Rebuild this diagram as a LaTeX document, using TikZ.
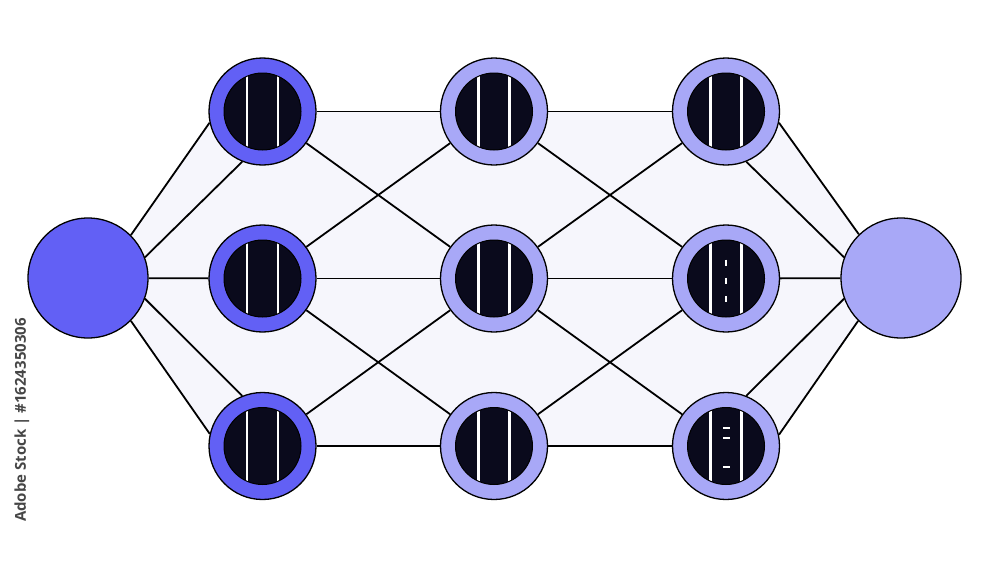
\documentclass[tikz,border=0pt]{standalone}
\usepackage{fontspec}
\newfontfamily\wmfont{Open Sans}
\usetikzlibrary{backgrounds}
\definecolor{ringdark}{RGB}{98,96,245}
\definecolor{ringlight}{RGB}{168,168,247}
\definecolor{core}{RGB}{10,10,28}
\definecolor{zone}{RGB}{246,246,252}
\definecolor{wmgray}{RGB}{70,70,70}
\tikzset{
  bigdot/.style={circle, draw=black, line width=1.3pt, minimum size=120pt, inner sep=0pt},
  laneA/.style={circle, draw=black, line width=1.3pt, minimum size=107pt, inner sep=0pt, fill=ringdark},
  laneB/.style={circle, draw=black, line width=1.3pt, minimum size=107pt, inner sep=0pt, fill=ringlight},
  link/.style={draw=black, line width=1.8pt},
  lanemark/.style={draw=white, line width=2.6pt},
  dashmark/.style={draw=white, line width=2.2pt}
}
\begin{document}
\begin{tikzpicture}[x=1pt,y=-1pt]
\useasboundingbox (0,0) rectangle (1000,563);
% nodes
\node[bigdot, fill=ringdark] (L) at (88,278) {};
\node[bigdot, fill=ringlight] (R) at (901,278) {};
\node[laneA] (a1) at (262.5,111.5) {};
\node[laneA] (a2) at (262.5,278.5) {};
\node[laneA] (a3) at (262.5,446) {};
\node[laneB] (b1) at (494,111.5) {};
\node[laneB] (b2) at (494,278.5) {};
\node[laneB] (b3) at (494,446) {};
\node[laneB] (c1) at (726,111.5) {};
\node[laneB] (c2) at (726,278.5) {};
\node[laneB] (c3) at (726,446) {};
\begin{scope}[on background layer]
  \fill[white] (0,0) rectangle (1000,563);
  \fill[zone] (L.45.7) -- (a1.192.4) -- (a1.center) -- (c1.center) -- (c1.-12.4) -- (R.134.3)
    -- (R.center) -- (R.225.7) -- (c3.12.4) -- (c3.center) -- (a3.center) -- (a3.167.6)
    -- (L.-45.7) -- (L.center) -- cycle;
\end{scope}
% band connectors to the end circles
\draw[link] (L.45.7) -- (a1.192.4);
\draw[link] (L.20) -- (a1.248);
\draw[link] (L) -- (a2);
\draw[link] (L.-20) -- (a3.112);
\draw[link] (L.-45.7) -- (a3.167.6);
\draw[link] (R.134.3) -- (c1.-12.4);
\draw[link] (R.160) -- (c1.292);
\draw[link] (R) -- (c2);
\draw[link] (R.200) -- (c3.68);
\draw[link] (R.225.7) -- (c3.12.4);
% mesh
\foreach \u/\v in {a1/b1,a2/b2,a3/b3,a1/b2,a2/b1,a2/b3,a3/b2,
                   b1/c1,b2/c2,b3/c3,b1/c2,b2/c1,b2/c3,b3/c2}
  \draw[link] (\u) -- (\v);
% road cores
\foreach \n in {a1,a2,a3,b1,b2,b3,c1,c2,c3} {
  \begin{scope}
    \clip (\n.center) circle (38.5pt);
    \fill[core] (\n.center) circle (38.5pt);
    \draw[lanemark] ([xshift=-15.5pt,yshift=-40pt]\n.center) -- ([xshift=-15.5pt,yshift=40pt]\n.center);
    \draw[lanemark] ([xshift=15.5pt,yshift=-40pt]\n.center) -- ([xshift=15.5pt,yshift=40pt]\n.center);
  \end{scope}
  \draw[black, line width=1pt] (\n.center) circle (38.5pt);
}
% dashes
\draw[dashmark] ([yshift=19pt]c2.center) -- ([yshift=13pt]c2.center);
\draw[dashmark] ([yshift=1pt]c2.center) -- ([yshift=-5pt]c2.center);
\draw[dashmark] ([yshift=-17.5pt]c2.center) -- ([yshift=-23.5pt]c2.center);
\draw[dashmark] ([xshift=-3pt,yshift=17.7pt]c3.center) -- ([xshift=4pt,yshift=17.7pt]c3.center);
\draw[dashmark] ([xshift=-3pt,yshift=7.7pt]c3.center) -- ([xshift=4pt,yshift=7.7pt]c3.center);
\draw[dashmark] ([xshift=-3pt,yshift=-20.7pt]c3.center) -- ([xshift=4pt,yshift=-20.7pt]c3.center);
% side text
\node[rotate=90, text=wmgray, font=\wmfont\bfseries\fontsize{15}{17}\selectfont, inner sep=0pt] (wm) at (22,420) {Adobe Stock | \#1624350306};
\end{tikzpicture}
\end{document}
